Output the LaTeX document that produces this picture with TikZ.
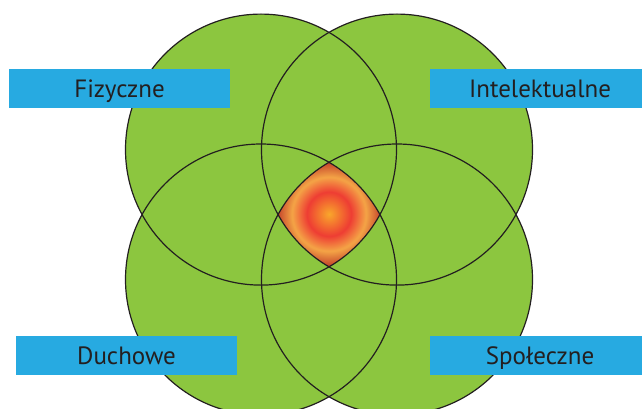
\documentclass[tikz,border=0pt]{standalone}
\usepackage{fontspec}
\setmainfont{PT Sans}
\usepackage{tikz}
\usetikzlibrary{calc}

\definecolor{leafgreen}{HTML}{8CC63F}
\definecolor{tagblue}{HTML}{27AAE1}
\definecolor{inkgray}{HTML}{231F20}
\definecolor{coreorange}{HTML}{F9A72B}
\definecolor{corered}{HTML}{EE3D33}
\definecolor{corelight}{HTML}{F4A446}
\definecolor{coredark}{HTML}{C2402A}
\pgfdeclareradialshading{coreglow}{\pgfpoint{0bp}{0bp}}{%
  color(0bp)=(coreorange); color(9.2bp)=(corered); color(15.4bp)=(corelight);
  color(21.7bp)=(coredark); color(50bp)=(coredark)}

\begin{document}
\begin{tikzpicture}[x=1pt, y=1pt,
  ring/.style={draw=inkgray, line width=1.2pt},
  tag/.style={fill=tagblue, text=inkgray, inner sep=0pt,
    minimum width=221pt, minimum height=38.7pt,
    text height=17.5pt, text depth=0pt, font=\fontsize{25}{30}\selectfont}]
\useasboundingbox (0,0) rectangle (642,408);
\clip (0,0) rectangle (642,408);
\coordinate (fiz) at (261,258.4);
\coordinate (int) at (397,258.4);
\coordinate (duc) at (261,128.5);
\coordinate (spo) at (397,128.5);
\coordinate (core) at (329,194);
\foreach \c in {fiz,int,duc,spo}
  \fill[leafgreen] (\c) circle (135.5);
% the part that all four share
\begin{scope}
\clip (fiz) circle (135.5);
\clip (int) circle (135.5);
\clip (duc) circle (135.5);
\clip (spo) circle (135.5);
\shade[shading=coreglow] ($(core)+(-60,-60)$) rectangle ($(core)+(60,60)$);
\end{scope}
\foreach \c in {fiz,int,duc,spo}
  \draw[ring] (\c) circle (135.5);
\node[tag] (fizTag) at (119.5,319.7) {Fizyczne};
\node[tag] (intTag) at (540,319.7) {Intelektualne};
\node[tag] (ducTag) at (126.5,52.5) {Duchowe};
\node[tag] (spoTag) at (540,52.5) {Społeczne};
\end{tikzpicture}
\end{document}
